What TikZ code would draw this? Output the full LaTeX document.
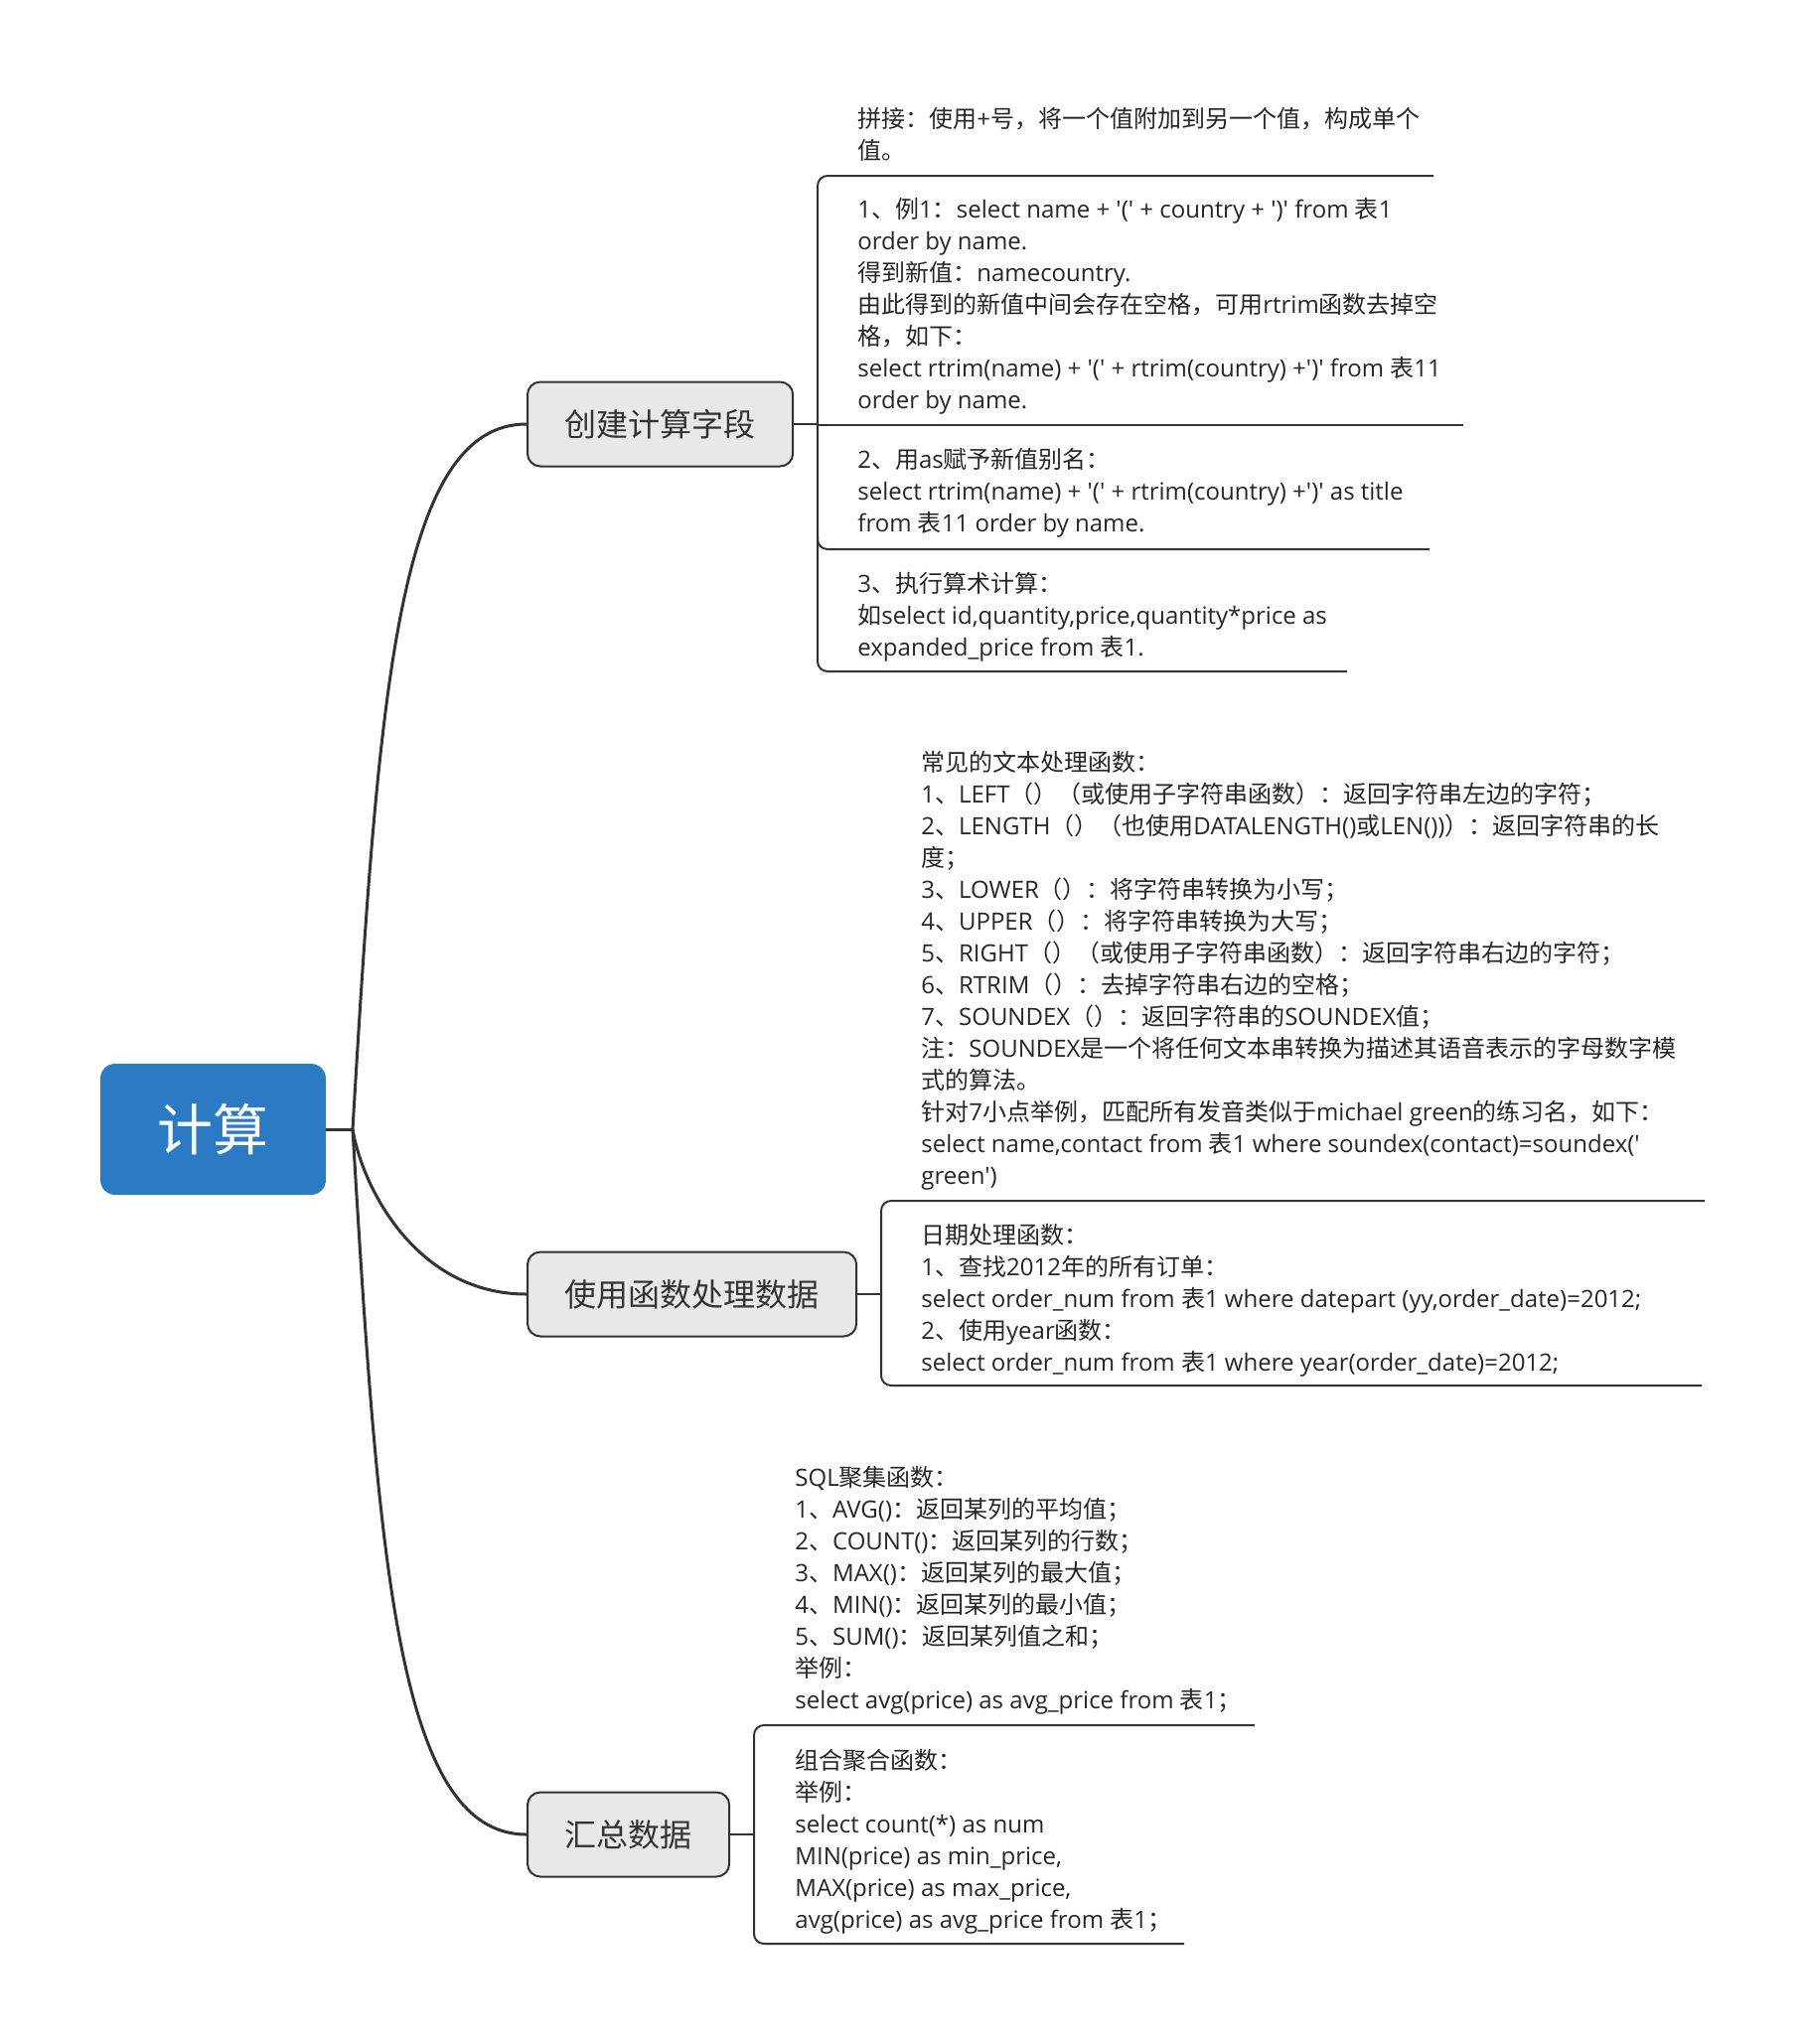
\documentclass[tikz,border=0pt]{standalone}
\usepackage{fontspec}
\setmainfont{Open Sans}
\newfontfamily\latinfont{Open Sans}[Ligatures=TeXOff]
\newfontfamily\cjkfont{Noto Sans CJK SC}
\usetikzlibrary{positioning}
\definecolor{rootblue}{RGB}{43,123,196}
\definecolor{topicgray}{RGB}{232,232,232}
\definecolor{linegray}{RGB}{51,51,51}

% switch to the CJK font for Chinese characters
\XeTeXinterchartokenstate=1
\newXeTeXintercharclass\cjkclass
\newcount\cjkcode
\def\setcjkrange#1#2{\cjkcode=#1\relax
  \loop\XeTeXcharclass\cjkcode=\cjkclass\relax
  \advance\cjkcode by 1\relax
  \ifnum\cjkcode<#2\repeat}
\setcjkrange{"3000}{"3040}
\setcjkrange{"4E00}{"A000}
\setcjkrange{"FF00}{"FFF0}
\XeTeXinterchartoks 0 \cjkclass = {\cjkfont}
\XeTeXinterchartoks 4095 \cjkclass = {\cjkfont}
\XeTeXinterchartoks \cjkclass 0 = {\latinfont}
\XeTeXinterchartoks \cjkclass 4095 = {\latinfont}

\begin{document}
\begin{tikzpicture}[x=0.5pt, y=-0.5pt,
  rootbox/.style={rectangle, rounded corners=7.5pt, fill=rootblue, text=white,
    minimum width=113.5pt, minimum height=66pt, font=\fontsize{28}{34}\latinfont},
  topicbox/.style={rectangle, draw=linegray, line width=1pt, rounded corners=6.5pt,
    fill=topicgray, text=linegray, inner xsep=18.8pt, minimum height=42.5pt,
    anchor=west, font=\fontsize{16}{20}\latinfont},
  detail/.style={anchor=north west, inner sep=0pt, align=left, text=black!85,
    font=\fontsize{12}{16}\latinfont},
  branchline/.style={draw=linegray, line width=1.5pt},
  bracket/.style={draw=linegray, line width=1pt, rounded corners=5pt}]

\path[use as bounding box, fill=white] (0,0) rectangle (1818,2058);

% Central topic and main branches
\node[rootbox] (root) at (214.5,1137) {计算};
\coordinate (hub) at (355,1137);

\node[topicbox] (calc) at (530,427) {创建计算字段};
\node[topicbox] (func) at (530,1303) {使用函数处理数据};
\node[topicbox] (summ) at (530,1847) {汇总数据};

\draw[branchline] (root.east) -- (hub);
\draw[branchline] (hub) .. controls +(26,-436) and +(-130,0) .. (calc.west);
\draw[branchline] (hub) .. controls +(10,60) and +(-110,0) .. (func.west);
\draw[branchline] (hub) .. controls +(26,436) and +(-130,0) .. (summ.west);

% Brackets
\coordinate (calcjoin) at (823,427);
\coordinate (funcjoin) at (887,1303);
\coordinate (summjoin) at (759,1847);
\draw[bracket] (calc.east) -- (calcjoin);
\draw[bracket] (func.east) -- (funcjoin);
\draw[bracket] (summ.east) -- (summjoin);

\draw[bracket] (1443,177) -- (823,177) -- (823,676) -- (1356,676);
\draw[bracket] (823,428) -- (1473,428);
\draw[bracket] (823,540) -- (823,553) -- (1439,553);

\draw[bracket] (1716,1209) -- (887,1209) -- (887,1395) -- (1713,1395);

\draw[bracket] (1263,1737) -- (759,1737) -- (759,1957) -- (1192,1957);

% Details: calculated fields
\node[detail] (concat) at (863,106)
  {\strut 拼接：使用+号，将一个值附加到另一个值，构成单个\\值。};
\node[detail] (example) at (863,197)
  {\strut 1、例1：select name + '(' + country + ')' from 表1\\
   order by name.\\
   得到新值：namecountry.\\
   由此得到的新值中间会存在空格，可用rtrim函数去掉空\\
   格，如下：\\
   select rtrim(name) + '(' + rtrim(country) +')' from 表11\\
   order by name.};
\node[detail] (alias) at (863,449)
  {\strut 2、用as赋予新值别名：\\
   select rtrim(name) + '(' + rtrim(country) +')' as title\\
   from 表11 order by name.};
\node[detail] (arith) at (863,574)
  {\strut 3、执行算术计算：\\
   如select id,quantity,price,quantity*price as\\
   expanded\_price from 表1.};

% Details: functions
\node[detail] (textfn) at (927,754)
  {\strut 常见的文本处理函数：\\
   1、LEFT（）（或使用子字符串函数）：返回字符串左边的字符；\\
   2、LENGTH（）（也使用DATALENGTH()或LEN())）：返回字符串的长\\
   度；\\
   3、LOWER（）：将字符串转换为小写；\\
   4、UPPER（）：将字符串转换为大写；\\
   5、RIGHT（）（或使用子字符串函数）：返回字符串右边的字符；\\
   6、RTRIM（）：去掉字符串右边的空格；\\
   7、SOUNDEX（）：返回字符串的SOUNDEX值；\\
   注：SOUNDEX是一个将任何文本串转换为描述其语音表示的字母数字模\\
   式的算法。\\
   针对7小点举例，匹配所有发音类似于michael green的练习名，如下：\\
   select name,contact from 表1 where soundex(contact)=soundex('\\
   green')};
\node[detail] (datefn) at (927,1229.5)
  {\strut 日期处理函数：\\
   1、查找2012年的所有订单：\\
   select order\_num from 表1 where datepart (yy,order\_date)=2012;\\
   2、使用year函数：\\
   select order\_num from 表1 where year(order\_date)=2012;};

% Details: summaries
\node[detail] (aggfn) at (800,1473.5)
  {\strut SQL聚集函数：\\
   1、AVG()：返回某列的平均值；\\
   2、COUNT()：返回某列的行数；\\
   3、MAX()：返回某列的最大值；\\
   4、MIN()：返回某列的最小值；\\
   5、SUM()：返回某列值之和；\\
   举例：\\
   select avg(price) as avg\_price from 表1；};
\node[detail] (combfn) at (800,1758.5)
  {\strut 组合聚合函数：\\
   举例：\\
   select count(*) as num\\
   MIN(price) as min\_price,\\
   MAX(price) as max\_price,\\
   avg(price) as avg\_price from 表1；};

\end{tikzpicture}
\end{document}
